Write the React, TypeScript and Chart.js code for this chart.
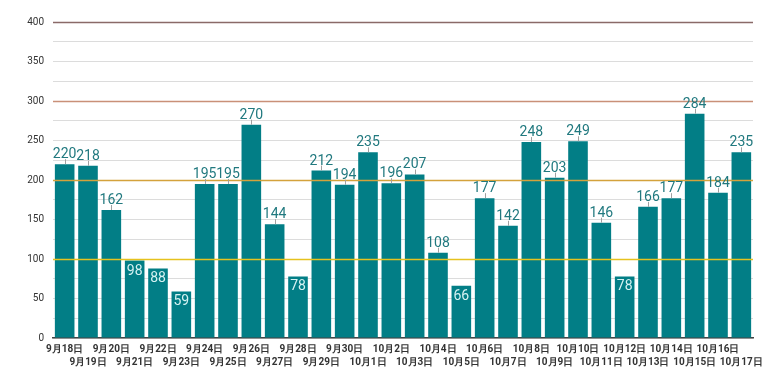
import React, { useEffect, useRef } from "react";
import { Chart, registerables } from "chart.js";

Chart.register(...registerables);

const categories = [
  "9月18日", "9月19日", "9月20日", "9月21日", "9月22日", "9月23日", "9月24日", "9月25日",
  "9月26日", "9月27日", "9月28日", "9月29日", "9月30日", "10月1日", "10月2日", "10月3日",
  "10月4日", "10月5日", "10月6日", "10月7日", "10月8日", "10月9日", "10月10日", "10月11日",
  "10月12日", "10月13日", "10月14日", "10月15日", "10月16日", "10月17日",
];

const values = [
  220, 218, 162, 98, 88, 59, 195, 195, 270, 144, 78, 212, 194, 235, 196, 207,
  108, 66, 177, 142, 248, 203, 249, 146, 78, 166, 177, 284, 184, 235,
];

const thresholdValues = [400, 300, 200, 100];
const thresholdColors = ["#8a6a68", "#c99078", "#d4a23c", "#e6c21e"];

const BAR_COLOR = "#027e86";

const labelsPlugin = {
  id: "valueLabels",
  afterDatasetsDraw(chart: any) {
    const ctx = chart.ctx;
    const y = chart.scales.y;
    const area = chart.chartArea;
    ctx.save();
    thresholdValues.forEach((v, i) => {
      const py = Math.round(y.getPixelForValue(v)) + 0.5;
      ctx.strokeStyle = thresholdColors[i];
      ctx.lineWidth = 1.6;
      ctx.beginPath();
      ctx.moveTo(area.left, py);
      ctx.lineTo(area.right, py);
      ctx.stroke();
    });
    ctx.restore();

    const meta = chart.getDatasetMeta(0);
    ctx.save();
    ctx.font = "14px Roboto";
    ctx.textAlign = "center";
    meta.data.forEach((bar: any, i: number) => {
      const v = values[i];
      const x = bar.x;
      const top = bar.y;
      if (v < 100) {
        ctx.fillStyle = "#d6f2f2";
        ctx.textBaseline = "alphabetic";
        ctx.fillText(String(v), x, top + 14);
      } else {
        ctx.strokeStyle = "#a0a0a0";
        ctx.lineWidth = 1;
        ctx.beginPath();
        ctx.moveTo(Math.round(x) + 0.5, top);
        ctx.lineTo(Math.round(x) + 0.5, top - 5);
        ctx.stroke();
        ctx.fillStyle = "#21797f";
        ctx.textBaseline = "alphabetic";
        ctx.fillText(String(v), x, top - 6);
      }
    });
    ctx.restore();
  },
};

export default function App() {
  const ref = useRef<HTMLCanvasElement | null>(null);
  useEffect(() => {
    if (!ref.current) return;
    const chart = new Chart(ref.current, {
      type: "bar",
      data: {
        labels: categories,
        datasets: [
          {
            data: values,
            backgroundColor: BAR_COLOR,
            categoryPercentage: 0.84,
            barPercentage: 1,
          },
        ],
      },
      options: {
        animation: false,
        responsive: false,
        maintainAspectRatio: false,
        layout: { padding: { left: 0, right: 27, top: 22, bottom: 0 } },
        plugins: {
          legend: { display: false },
          tooltip: { enabled: false },
        },
        scales: {
          x: {
            grid: { display: false, drawTicks: false },
            border: { display: true, color: "#444444", width: 1.5 },
            ticks: {
              autoSkip: false,
              maxRotation: 0,
              minRotation: 0,
              padding: 5,
              color: "#333333",
              font: { family: "Roboto", size: 10, weight: "bold", lineHeight: 1.3 },
              callback: (_v: any, i: number) =>
                i % 2 === 0 ? [categories[i]] : ["", categories[i]],
            },
            afterFit: (s: any) => {
              s.height = 52;
            },
          },
          y: {
            min: 0,
            max: 400,
            grid: {
              color: "#dcdcdc",
              lineWidth: 1,
              drawTicks: false,
            },
            border: { display: false },
            ticks: {
              stepSize: 25,
              padding: 9,
              color: "#333333",
              font: { family: "Roboto", size: 10 },
              callback: (v: any) => (Number(v) % 50 === 0 ? String(v) : ""),
            },
            afterFit: (s: any) => {
              s.width = 53;
            },
          },
        },
      },
      plugins: [labelsPlugin],
    });
    return () => chart.destroy();
  }, []);
  return (
    <div style={{ position: "fixed", left: 0, top: 0, width: 780, height: 390, background: "#ffffff" }}>
      <canvas ref={ref} width={780} height={390} style={{ width: 780, height: 390 }} />
    </div>
  );
}
